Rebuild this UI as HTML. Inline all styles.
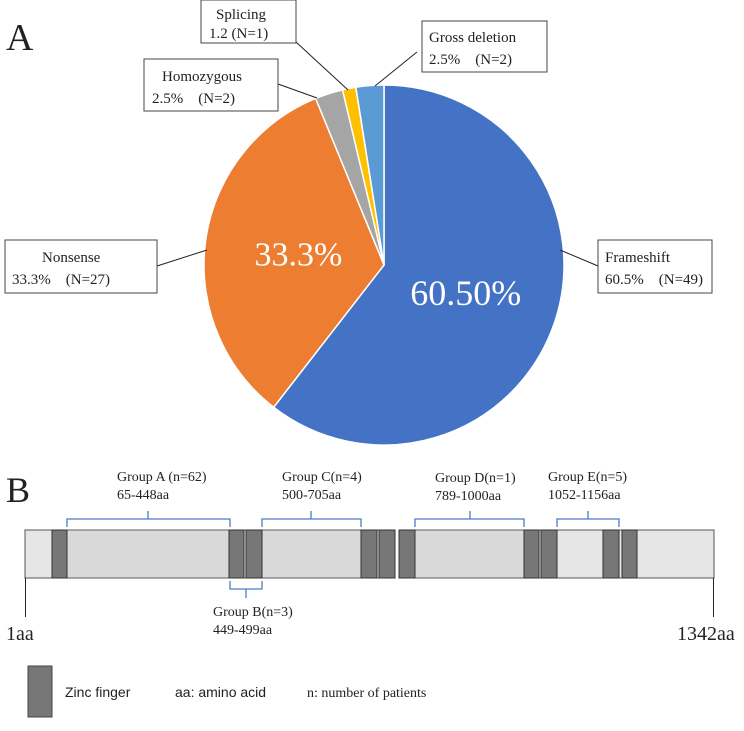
<!DOCTYPE html>
<html><head><meta charset="utf-8"><style>
body{margin:0;background:#fff}
svg text{font-family:"Liberation Serif","Noto Serif CJK SC",serif;fill:#222}
</style></head><body>
<svg width="744" height="726" viewBox="0 0 744 726">
<text x="6" y="50" font-size="38">A</text>
<g id="pie"></g>
<g font-size="15">
 <line x1="560" y1="250" x2="598" y2="266" stroke="#222"/>
 <rect x="598" y="240" width="114" height="53" fill="#fff" stroke="#444"/>
 <text x="605" y="262">Frameshift</text>
 <text x="605" y="284">60.5%　(N=49)</text>
 <line x1="207" y1="250" x2="157" y2="266" stroke="#222"/>
 <rect x="5" y="240" width="152" height="53" fill="#fff" stroke="#444"/>
 <text x="42" y="262">Nonsense</text>
 <text x="12" y="284">33.3%　(N=27)</text>
 <line x1="278" y1="84" x2="317" y2="98" stroke="#222"/>
 <rect x="144" y="59" width="134" height="52" fill="#fff" stroke="#444"/>
 <text x="162" y="81">Homozygous</text>
 <text x="152" y="103">2.5%　(N=2)</text>
 <line x1="296" y1="42" x2="348" y2="90" stroke="#222"/>
 <rect x="201" y="0" width="95" height="43" fill="#fff" stroke="#444"/>
 <text x="216" y="19">Splicing</text>
 <text x="209" y="38">1.2 (N=1)</text>
 <line x1="417" y1="52" x2="375" y2="86" stroke="#222"/>
 <rect x="422" y="21" width="125" height="51" fill="#fff" stroke="#444"/>
 <text x="429" y="42">Gross deletion</text>
 <text x="429" y="64">2.5%　(N=2)</text>
</g>
<text x="6" y="502" font-size="36">B</text>
<g>
 <rect x="25" y="530" width="689" height="48" fill="#e6e6e6" stroke="#555"/>
 <rect x="66" y="531" width="163" height="46" fill="#d9d9d9"/>
 <rect x="262" y="531" width="99" height="46" fill="#d9d9d9"/>
 <rect x="395" y="529" width="4" height="50" fill="#fff"/>
 <rect x="415" y="531" width="109" height="46" fill="#d9d9d9"/>
 <g fill="#777" stroke="#333" stroke-width="1">
  <rect x="52" y="530" width="15" height="48"/>
  <rect x="229" y="530" width="15" height="48"/>
  <rect x="246" y="530" width="16" height="48"/>
  <rect x="361" y="530" width="16" height="48"/>
  <rect x="379" y="530" width="16" height="48"/>
  <rect x="399" y="530" width="16" height="48"/>
  <rect x="524" y="530" width="15" height="48"/>
  <rect x="541" y="530" width="16" height="48"/>
  <rect x="603" y="530" width="16" height="48"/>
  <rect x="622" y="530" width="15" height="48"/>
 </g>
 <g fill="none" stroke="#4a7cc4" stroke-width="1.3">
  <path d="M67 527V519H230V527M148 519V511"/>
  <path d="M262 527V519H361V527M311 519V511"/>
  <path d="M415 527V519H524V527M470 519V511"/>
  <path d="M557 527V519H619V527M588 519V511"/>
  <path d="M230 581V589H262V581M246 589V598"/>
 </g>
 <g font-size="14">
  <text x="117" y="481">Group A (n=62)</text>
  <text x="117" y="499">65-448aa</text>
  <text x="282" y="481">Group C(n=4)</text>
  <text x="282" y="499">500-705aa</text>
  <text x="435" y="482">Group D(n=1)</text>
  <text x="435" y="500">789-1000aa</text>
  <text x="548" y="481">Group E(n=5)</text>
  <text x="548" y="499">1052-1156aa</text>
  <text x="213" y="616">Group B(n=3)</text>
  <text x="213" y="634">449-499aa</text>
 </g>
 <line x1="25.5" y1="578" x2="25.5" y2="617" stroke="#222"/>
 <line x1="713.5" y1="578" x2="713.5" y2="617" stroke="#222"/>
 <text x="6" y="640" font-size="20">1aa</text>
 <text x="677" y="640" font-size="20">1342aa</text>
</g>
<g>
 <rect x="28" y="666" width="24" height="51" fill="#777" stroke="#444"/>
 <text x="65" y="697" font-size="14" style="font-family:'Liberation Sans',sans-serif">Zinc finger</text>
 <text x="175" y="697" font-size="14" style="font-family:'Liberation Sans',sans-serif">aa: amino acid</text>
 <text x="307" y="697" font-size="14">n: number of patients</text>
</g>
</svg>
<script>
const categories = ["Frameshift","Nonsense","Homozygous","Splicing","Gross deletion"];
const values = [60.5,33.3,2.5,1.2,2.5];
const colors = ["#4472c4","#ed7d31","#a5a5a5","#ffc000","#5b9bd5"];
const insideLabels = ["60.50%","33.3%","","",""];
const g=document.getElementById('pie');
const cx=384,cy=265,r=180,ns='http://www.w3.org/2000/svg';
const total=values.reduce((a,b)=>a+b,0);
let a0=0;
function pt(a,rr){return [cx+rr*Math.sin(a),cy-rr*Math.cos(a)];}
values.forEach((v,i)=>{
 const a1=a0+v/total*2*Math.PI;
 const p0=pt(a0,r),p1=pt(a1,r);
 const path=document.createElementNS(ns,'path');
 path.setAttribute('d',`M${cx} ${cy}L${p0[0]} ${p0[1]}A${r} ${r} 0 ${a1-a0>Math.PI?1:0} 1 ${p1[0]} ${p1[1]}Z`);
 path.setAttribute('fill',colors[i]);path.setAttribute('stroke','#fff');path.setAttribute('stroke-width','1.5');
 
 
 g.appendChild(path);
 if(insideLabels[i]){
  const m=(a0+a1)/2,p=pt(m,r*0.48);
  const t=document.createElementNS(ns,'text');
  t.setAttribute('x',p[0]);t.setAttribute('y',p[1]+12);t.setAttribute('text-anchor','middle');
  t.setAttribute('font-size',i==0?'36':'34');t.setAttribute('style','fill:#fff');
  t.textContent=insideLabels[i];
  
  
  g.appendChild(t);
 }
 a0=a1;
});
</script>
</body></html>
